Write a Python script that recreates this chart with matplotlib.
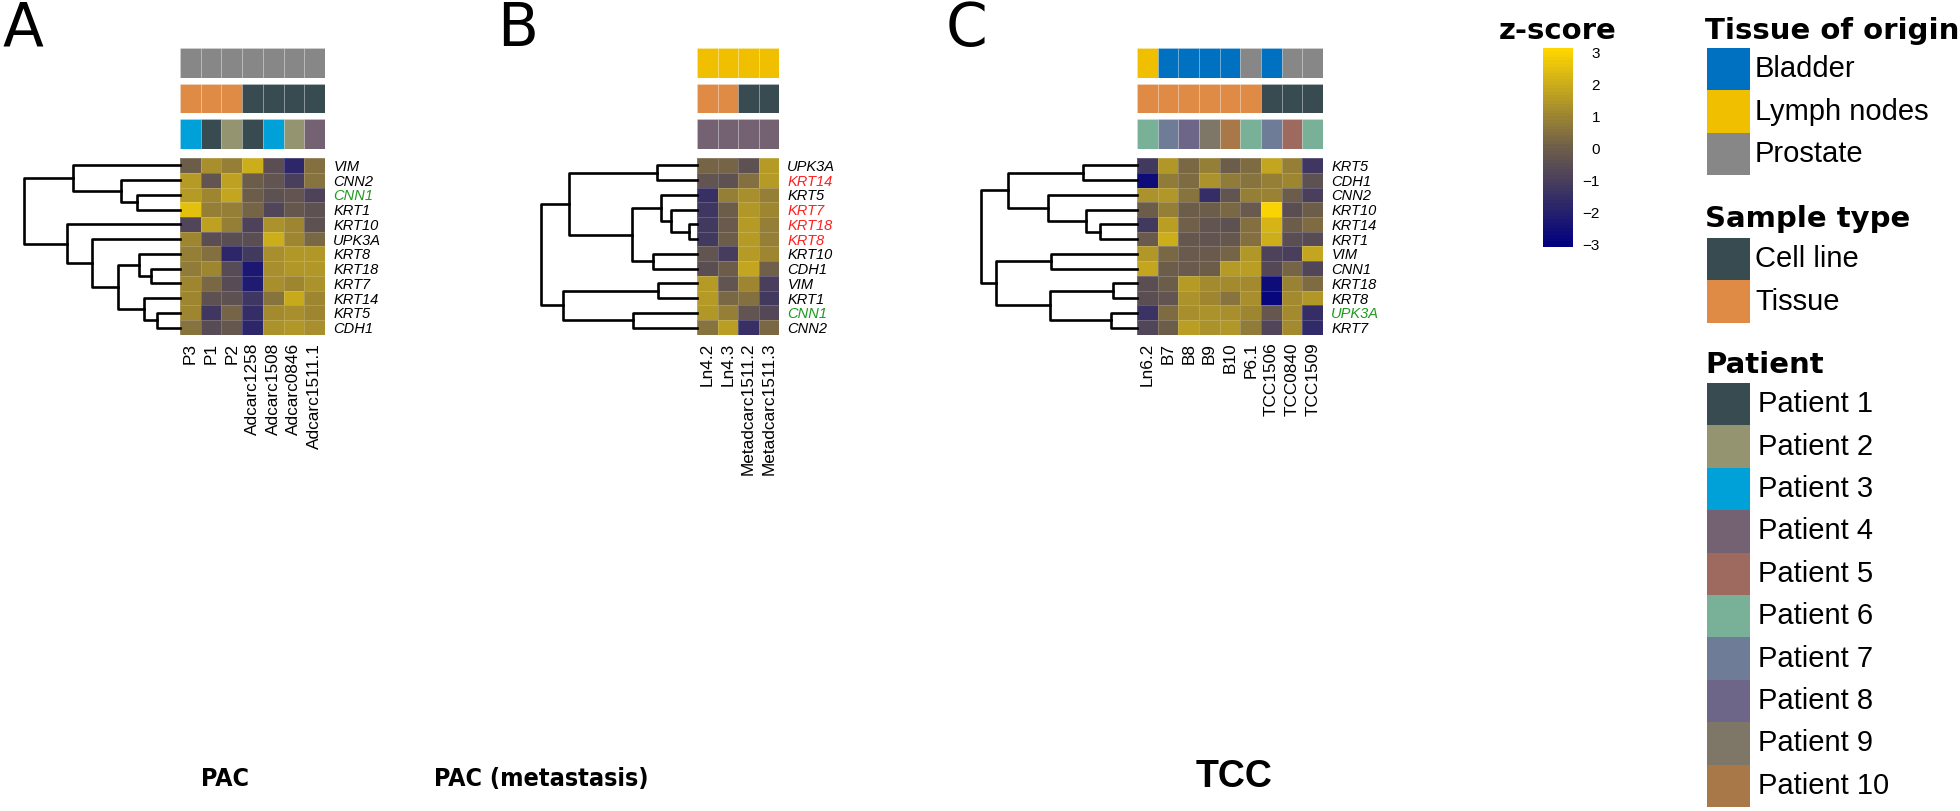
import numpy as np
import matplotlib
matplotlib.use("Agg")
import matplotlib.pyplot as plt
from matplotlib import font_manager as fm
from matplotlib.colors import LinearSegmentedColormap, Normalize
from matplotlib.patches import Rectangle
from matplotlib.cm import ScalarMappable

# ---- data -------------------------------------------------------------------
A_COLS = ["P3", "P1", "P2", "Adcarc1258", "Adcarc1508", "Adcarc0846", "Adcarc1511.1"]
A_ROWS = ["VIM", "CNN2", "CNN1", "KRT1", "KRT10", "UPK3A", "KRT8", "KRT18", "KRT7", "KRT14", "KRT5", "CDH1"]
A_VALUES = [
    [0.0, 1.2, 0.8, 2.0, -0.5, -1.8, 0.5],
    [1.5, -0.3, 1.7, 0.0, -0.3, -1.0, 0.6],
    [1.5, 1.0, 1.8, 0.0, -0.4, -0.3, -0.9],
    [2.5, 0.8, 0.8, 0.2, -0.8, -0.2, -0.4],
    [-0.8, 1.7, 0.8, -0.9, 1.3, 1.0, -0.4],
    [1.0, -0.5, -0.5, -0.5, 2.0, 1.0, 0.3],
    [0.8, 0.5, -1.8, -1.2, 1.2, 1.4, 1.4],
    [0.7, 1.0, -0.6, -2.3, 1.2, 1.4, 1.4],
    [1.0, 0.3, -0.6, -2.2, 1.2, 1.0, 1.3],
    [1.0, -0.4, -0.4, -1.3, 0.6, 1.9, 1.0],
    [1.0, -1.3, 0.2, -1.6, 1.1, 1.2, 1.0],
    [0.6, -0.6, -0.2, -1.8, 1.3, 1.4, 1.2],
]
A_TISSUE = ["Prostate"] * 7
A_SAMPLE = ["Tissue", "Tissue", "Tissue", "Cell line", "Cell line", "Cell line", "Cell line"]
A_PATIENT = ["Patient 3", "Patient 1", "Patient 2", "Patient 1", "Patient 3", "Patient 2", "Patient 4"]
# merges (left, right, height) in scipy order: leaves 0..n-1, merge k -> n+k
A_LINKAGE = [(7, 8, 0.188), (6, 12, 0.261), (10, 11, 0.150), (9, 14, 0.231), (13, 15, 0.395),
             (5, 16, 0.566), (4, 17, 0.726), (2, 3, 0.278), (1, 19, 0.380), (0, 20, 0.684),
             (21, 18, 1.0)]
A_GREEN, A_RED = ["CNN1"], []

B_COLS = ["Ln4.2", "Ln4.3", "Metadcarc1511.2", "Metadcarc1511.3"]
B_ROWS = ["UPK3A", "KRT14", "KRT5", "KRT7", "KRT18", "KRT8", "KRT10", "CDH1", "VIM", "KRT1", "CNN1", "CNN2"]
B_VALUES = [
    [0.2, 0.2, -0.4, 1.5],
    [-0.3, -0.4, 0.5, 1.5],
    [-1.5, 0.8, 1.2, 0.8],
    [-1.3, 0.0, 1.4, 1.0],
    [-1.2, -0.1, 1.5, 0.8],
    [-1.2, 0.0, 1.5, 0.8],
    [-0.3, -1.1, 1.5, 1.0],
    [-0.5, 0.0, 1.8, 0.1],
    [1.5, -0.3, 1.0, -1.0],
    [1.5, 0.3, 0.5, -1.2],
    [1.4, 0.8, -0.3, -0.7],
    [0.6, 1.6, -1.5, 0.3],
]
B_TISSUE = ["Lymph nodes"] * 4
B_SAMPLE = ["Tissue", "Tissue", "Cell line", "Cell line"]
B_PATIENT = ["Patient 4"] * 4
B_LINKAGE = [(0, 1, 0.257), (4, 5, 0.054), (3, 13, 0.167), (2, 14, 0.231), (6, 7, 0.283),
             (15, 16, 0.418), (12, 17, 0.820), (8, 9, 0.251), (10, 11, 0.411), (19, 20, 0.857),
             (18, 21, 1.0)]
B_GREEN, B_RED = ["CNN1"], ["KRT14", "KRT7", "KRT18", "KRT8"]

C_COLS = ["Ln6.2", "B7", "B8", "B9", "B10", "P6.1", "TCC1506", "TCC0840", "TCC1509"]
C_ROWS = ["KRT5", "CDH1", "CNN2", "KRT10", "KRT14", "KRT1", "VIM", "CNN1", "KRT18", "KRT8", "UPK3A", "KRT7"]
C_VALUES = [
    [-1.2, 1.4, 0.3, 0.8, 0.0, 0.4, 1.8, 0.8, -1.3],
    [-2.7, 0.7, 0.4, 1.3, 0.7, 0.6, 0.8, 1.0, -0.4],
    [1.3, 1.4, 0.6, -1.6, -0.3, 0.8, 0.9, 0.0, -1.0],
    [0.0, 0.8, 0.0, 0.0, 0.3, -0.1, 3.0, -0.5, 0.0],
    [-1.2, 1.6, 0.1, -0.3, -0.4, 0.5, 2.2, 0.0, 0.4],
    [-0.1, 2.0, -0.2, -0.3, -0.2, 0.5, 2.0, -0.5, -0.6],
    [1.4, 0.3, -0.1, -0.1, 0.2, 1.4, -0.9, -1.0, 1.8],
    [1.8, 0.0, -0.1, 0.0, 1.5, 1.6, -0.7, 0.2, -0.8],
    [-0.5, 0.0, 1.5, 1.1, 1.1, 1.1, -2.7, 0.9, 0.4],
    [-0.5, -0.3, 1.3, 1.0, 0.6, 1.2, -2.8, 1.1, 1.4],
    [-1.4, 0.4, 1.2, 1.3, 1.2, 1.0, -0.2, 1.1, -1.6],
    [-0.8, 0.0, 1.6, 1.3, 1.4, 0.7, -0.8, 1.1, -1.7],
]
C_TISSUE = ["Lymph nodes", "Bladder", "Bladder", "Bladder", "Bladder", "Prostate", "Bladder", "Prostate", "Prostate"]
C_SAMPLE = ["Tissue"] * 6 + ["Cell line"] * 3
C_PATIENT = ["Patient 6", "Patient 7", "Patient 8", "Patient 9", "Patient 10", "Patient 6",
             "Patient 7", "Patient 5", "Patient 6"]
C_LINKAGE = [(0, 1, 0.348), (4, 5, 0.239), (3, 13, 0.325), (2, 14, 0.573), (12, 15, 0.827),
             (6, 7, 0.549), (8, 9, 0.154), (10, 11, 0.167), (18, 19, 0.560), (17, 20, 0.902),
             (16, 21, 1.0)]
C_GREEN, C_RED = ["UPK3A"], []

TISSUE_COLORS = {"Bladder": "#0070C0", "Lymph nodes": "#F0C000", "Prostate": "#878787"}
SAMPLE_COLORS = {"Cell line": "#374B50", "Tissue": "#E08B45"}
PATIENT_COLORS = {
    "Patient 1": "#374B50", "Patient 2": "#949470", "Patient 3": "#00A0D8",
    "Patient 4": "#746272", "Patient 5": "#9E6A60", "Patient 6": "#78B098",
    "Patient 7": "#6E7C98", "Patient 8": "#6E6688", "Patient 9": "#7E7666",
    "Patient 10": "#A87848",
}
ZTICKS = [-3, -2, -1, 0, 1, 2, 3]

# ---- style ------------------------------------------------------------------
W, H = 1960, 811
CMAP = LinearSegmentedColormap.from_list("zs", ["#000080", "#6E5E4A", "#FFD700"], N=64)
NORM = Normalize(vmin=-3.09, vmax=3.125)
SANS = ["Liberation Sans", "DejaVu Sans"]
EDGE = (1, 1, 1, 0.18)

# the panel captions use a condensed bold face; take whatever is installed
_installed = {f.name for f in fm.fontManager.ttflist}
_condensed = [f for f in fm.fontManager.ttflist if f.name == "DejaVu Sans" and "ondensed" in f.fname]
if "Liberation Sans Narrow" in _installed:
    CAPTION = dict(family="Liberation Sans Narrow", fontsize=20)
elif _condensed:
    CAPTION = dict(family="DejaVu Sans", stretch="condensed", fontsize=18)
else:
    CAPTION = dict(family="Liberation Sans", fontsize=17)


def px_axes(fig, x0, y0, x1, y1):
    return fig.add_axes([x0 / W, 1 - y1 / H, (x1 - x0) / W, (y1 - y0) / H])


def draw_dendrogram(ax, linkage, n):
    pos = {i: i + 0.5 for i in range(n)}
    hgt = {i: 0.0 for i in range(n)}
    for k, (a, b, h) in enumerate(linkage):
        ax.plot([hgt[a], h, h, hgt[b]], [pos[a], pos[a], pos[b], pos[b]],
                color="black", lw=1.9, clip_on=False)
        pos[n + k] = (pos[a] + pos[b]) / 2
        hgt[n + k] = h
    ax.set_xlim(1.0, 0.0)
    ax.set_ylim(n, 0)
    ax.axis("off")


def draw_panel(fig, left, right, rows, cols, values, tissue, sample, patient, linkage, green, red):
    ax = px_axes(fig, left, 158, right, 335)
    ax.pcolormesh(np.array(values), cmap=CMAP, norm=NORM, edgecolors=EDGE, linewidth=0.7)
    ax.set_xlim(0, len(cols))
    ax.set_ylim(len(rows), 0)
    ax.set_xticks(np.arange(len(cols)) + 0.5)
    ax.set_xticklabels(cols, rotation=90, fontsize=12.4, family=SANS)
    ax.yaxis.tick_right()
    ax.set_yticks(np.arange(len(rows)) + 0.5)
    ax.set_yticklabels(rows, fontsize=10.5, family=SANS, style="italic")
    for lbl, name in zip(ax.get_yticklabels(), rows):
        if name in green:
            lbl.set_color("#1E9A1E")
        elif name in red:
            lbl.set_color("#FF2020")
    ax.tick_params(axis="x", length=0, pad=5.5)
    ax.tick_params(axis="y", length=0, pad=6)
    for s in ax.spines.values():
        s.set_visible(False)

    for (y0, y1), cats, cmap in zip([(48, 78), (84, 113), (119, 149)],
                                    [tissue, sample, patient],
                                    [TISSUE_COLORS, SAMPLE_COLORS, PATIENT_COLORS]):
        bx = px_axes(fig, left, y0, right, y1)
        bx.bar(np.arange(len(cats)) + 0.5, 1, width=1, color=[cmap[c] for c in cats],
               edgecolor=EDGE, linewidth=0.7)
        bx.set_xlim(0, len(cats))
        bx.set_ylim(0, 1)
        bx.axis("off")

    dx = px_axes(fig, left - 156, 158, left, 335)
    draw_dendrogram(dx, linkage, len(rows))


fig = plt.figure(figsize=(W / 100, H / 100), dpi=100)

draw_panel(fig, 180, 325, A_ROWS, A_COLS, A_VALUES, A_TISSUE, A_SAMPLE, A_PATIENT, A_LINKAGE, A_GREEN, A_RED)
draw_panel(fig, 697, 779, B_ROWS, B_COLS, B_VALUES, B_TISSUE, B_SAMPLE, B_PATIENT, B_LINKAGE, B_GREEN, B_RED)
draw_panel(fig, 1137, 1323, C_ROWS, C_COLS, C_VALUES, C_TISSUE, C_SAMPLE, C_PATIENT, C_LINKAGE, C_GREEN, C_RED)

# panel letters and titles
for letter, x in [("A", 3), ("B", 497), ("C", 946)]:
    fig.text(x / W, 1 - 46 / H, letter, fontsize=43, family="DejaVu Sans", va="baseline", ha="left")
fig.text(225 / W, 1 - 786 / H, "PAC", weight="bold", ha="center", va="baseline", **CAPTION)
fig.text(541 / W, 1 - 786 / H, "PAC (metastasis)", weight="bold", ha="center", va="baseline", **CAPTION)
fig.text(1234 / W, 1 - 787 / H, "TCC", fontsize=27, weight="bold",
         family=SANS, ha="center", va="baseline")

# colour key
cax = px_axes(fig, 1543, 48, 1573, 247)
cb = fig.colorbar(ScalarMappable(norm=NORM, cmap=CMAP), cax=cax, ticks=ZTICKS)
cb.outline.set_visible(False)
cax.tick_params(length=0, pad=19.4, labelsize=11)
for lbl in cax.get_yticklabels():
    lbl.set_ha("right")
    lbl.set_family(SANS)
fig.text(1558 / W, 1 - 39 / H, "z-score", fontsize=21, weight="bold",
         family="DejaVu Sans", ha="center", va="baseline")

# annotation legends
lx = px_axes(fig, 1700, 0, 1960, 811)
lx.set_xlim(1700, 1960)
lx.set_ylim(811, 0)
lx.axis("off")
sections = [("Tissue of origin", 39, 48, TISSUE_COLORS, 1755),
            ("Sample type", 227, 238, SAMPLE_COLORS, 1755),
            ("Patient", 373, 383, PATIENT_COLORS, 1758)]
for title, base, top, colors, tx in sections:
    lx.text(1705, base, title, fontsize=21, weight="bold", family="DejaVu Sans",
            va="baseline", ha="left", clip_on=False)
    for i, (name, col) in enumerate(colors.items()):
        y = top + i * 42.4
        lx.add_patch(Rectangle((1707, y), 43, 42.4, facecolor=col, edgecolor="none"))
        lx.text(tx, y + 21.2, name, fontsize=21, family=SANS, va="center", ha="left", clip_on=False)

fig.savefig("out.png", dpi=100, facecolor="white")
